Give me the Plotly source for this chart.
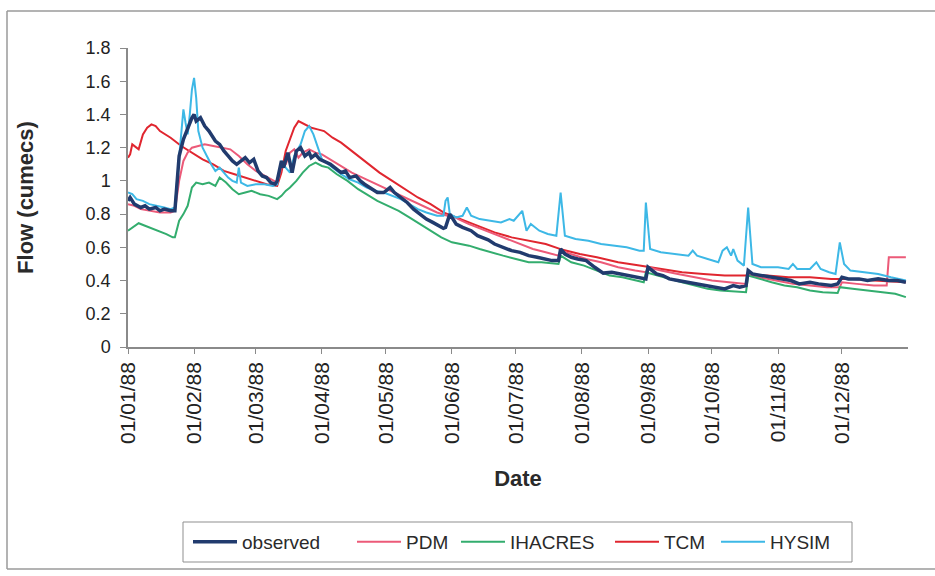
import pandas as pd
import plotly.graph_objects as go

START = pd.Timestamp("1988-01-01")

# Daily flow (cumecs), sampled as day-of-year offsets from 1 Jan 1988
obs_days = [0, 1, 3, 6, 8, 10, 13, 15, 17, 20, 22, 23, 24, 26, 28, 30, 31, 32, 34, 36, 38, 39, 41, 43, 45,
            47, 49, 51, 53, 55, 57, 59, 61, 63, 65, 67, 69, 70, 72, 73, 75, 76, 77, 79, 81, 83, 85, 86, 88,
            90, 92, 95, 97, 100, 102, 104, 107, 109, 111, 115, 117, 120, 123, 125, 128, 131, 134, 137, 140,
            143, 146, 148, 149, 151, 153, 154, 157, 161, 164, 169, 172, 176, 180, 184, 188, 192, 196, 199,
            202, 203, 205, 208, 211, 215, 219, 223, 227, 231, 235, 238, 242, 243, 244, 246, 248, 251, 254,
            258, 262, 266, 270, 274, 277, 280, 284, 287, 290, 291, 293, 297, 301, 306, 311, 315, 320, 324,
            330, 333, 335, 338, 343, 347, 352, 357, 361, 365]
obs_vals = [0.88, 0.90, 0.86, 0.84, 0.85, 0.83, 0.84, 0.82, 0.83, 0.82, 0.82, 1.00, 1.15, 1.25, 1.32, 1.38,
            1.40, 1.36, 1.38, 1.33, 1.30, 1.28, 1.24, 1.22, 1.18, 1.15, 1.12, 1.10, 1.12, 1.14, 1.11, 1.13,
            1.06, 1.03, 1.02, 0.99, 0.98, 1.00, 1.12, 1.08, 1.17, 1.10, 1.05, 1.18, 1.20, 1.15, 1.17, 1.14,
            1.16, 1.13, 1.12, 1.10, 1.08, 1.05, 1.06, 1.02, 1.03, 1.00, 0.98, 0.95, 0.93, 0.93, 0.96, 0.93,
            0.90, 0.87, 0.83, 0.80, 0.77, 0.75, 0.73, 0.715, 0.72, 0.80, 0.76, 0.74, 0.72, 0.70, 0.67, 0.645,
            0.62, 0.60, 0.58, 0.57, 0.55, 0.54, 0.53, 0.52, 0.52, 0.59, 0.56, 0.54, 0.53, 0.52, 0.48, 0.445,
            0.45, 0.44, 0.43, 0.42, 0.415, 0.41, 0.48, 0.46, 0.44, 0.43, 0.41, 0.40, 0.39, 0.38, 0.37, 0.36,
            0.355, 0.35, 0.37, 0.36, 0.37, 0.46, 0.44, 0.43, 0.42, 0.41, 0.40, 0.38, 0.39, 0.38, 0.37, 0.38,
            0.42, 0.41, 0.41, 0.40, 0.41, 0.40, 0.40, 0.39]

pdm_days = [0, 3, 6, 10, 15, 20, 22, 24, 26, 28, 30, 33, 36, 40, 44, 48, 52, 56, 60, 64, 68, 70, 72, 74, 76,
            78, 80, 82, 85, 88, 91, 95, 100, 105, 110, 115, 120, 125, 130, 135, 140, 145, 150, 151, 155, 160,
            166, 172, 178, 184, 190, 196, 202, 203, 208, 215, 222, 230, 238, 243, 244, 250, 258, 266, 274,
            282, 290, 291, 296, 304, 312, 320, 328, 334, 335, 342, 350, 356, 357, 365]
pdm_vals = [0.86, 0.85, 0.83, 0.82, 0.81, 0.81, 0.82, 1.00, 1.12, 1.17, 1.20, 1.21, 1.22, 1.21, 1.20, 1.19,
            1.15, 1.10, 1.06, 1.03, 1.00, 0.99, 1.08, 1.10, 1.17, 1.19, 1.14, 1.17, 1.19, 1.17, 1.16, 1.13,
            1.09, 1.05, 1.02, 0.99, 0.96, 0.93, 0.90, 0.87, 0.84, 0.81, 0.79, 0.80, 0.77, 0.74, 0.71, 0.68,
            0.65, 0.62, 0.59, 0.57, 0.55, 0.58, 0.56, 0.53, 0.51, 0.48, 0.46, 0.45, 0.48, 0.46, 0.44, 0.42,
            0.40, 0.39, 0.38, 0.44, 0.42, 0.40, 0.38, 0.37, 0.36, 0.36, 0.39, 0.38, 0.37, 0.37, 0.54, 0.54]

ihacres_days = [0, 2, 5, 8, 10, 14, 18, 21, 22, 24, 26, 28, 30, 32, 35, 38, 41, 43, 46, 49, 52, 55, 58, 62,
                66, 70, 72, 74, 76, 79, 82, 85, 88, 91, 94, 98, 103, 108, 112, 117, 122, 127, 132, 137, 142,
                147, 152, 156, 160, 165, 170, 176, 182, 188, 194, 199, 202, 203, 208, 214, 220, 226, 232, 238,
                242, 243, 248, 254, 260, 266, 272, 278, 284, 290, 291, 296, 302, 308, 314, 320, 326, 333, 334,
                340, 347, 354, 360, 365]
ihacres_vals = [0.70, 0.72, 0.745, 0.73, 0.72, 0.70, 0.68, 0.66, 0.66, 0.76, 0.80, 0.85, 0.96, 0.99, 0.98,
                0.99, 0.97, 1.02, 0.99, 0.95, 0.92, 0.93, 0.94, 0.92, 0.91, 0.89, 0.91, 0.94, 0.96, 1.00, 1.05,
                1.09, 1.11, 1.09, 1.08, 1.04, 1.00, 0.95, 0.92, 0.88, 0.85, 0.82, 0.78, 0.74, 0.70, 0.66, 0.63,
                0.62, 0.61, 0.59, 0.57, 0.55, 0.53, 0.51, 0.51, 0.505, 0.50, 0.55, 0.51, 0.49, 0.46, 0.43, 0.42,
                0.40, 0.39, 0.45, 0.43, 0.41, 0.39, 0.37, 0.35, 0.34, 0.335, 0.33, 0.43, 0.41, 0.39, 0.37, 0.36,
                0.34, 0.33, 0.325, 0.36, 0.35, 0.34, 0.33, 0.32, 0.30]

tcm_days = [0, 1, 2, 4, 5, 7, 9, 11, 13, 15, 20, 25, 30, 35, 40, 45, 50, 55, 60, 65, 70, 72, 74, 76, 78, 80,
            83, 86, 89, 92, 96, 100, 106, 112, 118, 124, 130, 136, 142, 148, 154, 160, 166, 172, 180, 188,
            196, 204, 212, 220, 230, 240, 250, 260, 270, 280, 290, 300, 310, 320, 330, 340, 350, 365]
tcm_vals = [1.14, 1.16, 1.22, 1.20, 1.19, 1.28, 1.32, 1.34, 1.33, 1.30, 1.26, 1.21, 1.17, 1.13, 1.10, 1.06,
            1.04, 1.02, 1.00, 0.98, 0.97, 1.05, 1.18, 1.25, 1.32, 1.36, 1.34, 1.32, 1.31, 1.30, 1.26, 1.23,
            1.17, 1.11, 1.05, 1.00, 0.95, 0.90, 0.86, 0.81, 0.78, 0.75, 0.72, 0.69, 0.66, 0.64, 0.62, 0.585,
            0.56, 0.54, 0.51, 0.49, 0.47, 0.45, 0.44, 0.43, 0.43, 0.43, 0.42, 0.42, 0.41, 0.41, 0.40, 0.39]

hysim_days = [0, 2, 4, 7, 10, 14, 17, 20, 22, 23, 25, 26, 27, 28, 29, 30, 31, 32, 33, 35, 37, 39, 41, 43, 45,
              47, 49, 51, 52, 53, 56, 60, 64, 68, 70, 72, 74, 76, 78, 81, 83, 85, 87, 89, 91, 94, 97, 100, 104,
              108, 112, 116, 120, 124, 128, 132, 136, 140, 145, 148, 149, 150, 151, 154, 157, 159, 161, 165,
              170, 175, 179, 181, 185, 187, 189, 193, 197, 201, 203, 205, 210, 216, 222, 228, 234, 240, 242,
              243, 245, 250, 256, 263, 265, 267, 272, 277, 279, 281, 283, 284, 286, 289, 291, 293, 297, 305,
              310, 312, 314, 320, 323, 325, 329, 332, 334, 336, 339, 345, 352, 358, 365]
hysim_vals = [0.93, 0.92, 0.89, 0.88, 0.86, 0.85, 0.84, 0.83, 0.84, 1.00, 1.30, 1.43, 1.35, 1.28, 1.40, 1.55,
              1.62, 1.50, 1.30, 1.20, 1.15, 1.10, 1.06, 1.08, 1.05, 1.02, 1.00, 0.99, 1.08, 0.99, 0.97, 0.98,
              0.98, 0.97, 0.98, 1.12, 1.08, 1.05, 1.15, 1.22, 1.30, 1.33, 1.28, 1.20, 1.13, 1.10, 1.07, 1.04,
              1.01, 0.99, 0.96, 0.94, 0.93, 0.91, 0.89, 0.86, 0.83, 0.81, 0.79, 0.79, 0.88, 0.90, 0.80, 0.78,
              0.79, 0.84, 0.79, 0.77, 0.76, 0.75, 0.77, 0.76, 0.82, 0.70, 0.74, 0.70, 0.68, 0.67, 0.93, 0.67,
              0.65, 0.64, 0.62, 0.61, 0.60, 0.58, 0.58, 0.87, 0.59, 0.57, 0.56, 0.55, 0.58, 0.55, 0.53, 0.51,
              0.58, 0.60, 0.55, 0.59, 0.52, 0.49, 0.84, 0.50, 0.48, 0.48, 0.47, 0.50, 0.47, 0.47, 0.51, 0.47,
              0.45, 0.44, 0.63, 0.50, 0.46, 0.45, 0.44, 0.42, 0.40]

month_ticks = pd.date_range("1988-01-01", "1988-12-01", freq="MS")
y_ticks = [0, 0.2, 0.4, 0.6, 0.8, 1, 1.2, 1.4, 1.6, 1.8]

FONT = "Liberation Sans, Arial, sans-serif"
AXIS_GREY = "#8a8a8a"

# Plot area spans 128..908 px horizontally and 48..347 px vertically
L, R, T, B = 128, 27, 48, 229
PW, PH = 935 - L - R, 576 - T - B


def px(x):
    return (x - L) / PW


def py(y):
    return (576 - B - y) / PH


# name, days, values, colour, width, legend id, legend left edge (px)
series = [
    ("TCM", tcm_days, tcm_vals, "#E0262F", 2.0, "legend4", 610),
    ("PDM", pdm_days, pdm_vals, "#EC5A78", 2.0, "legend2", 352),
    ("IHACRES", ihacres_days, ihacres_vals, "#33AD6E", 2.0, "legend3", 456),
    ("HYSIM", hysim_days, hysim_vals, "#3DB8E6", 2.0, "legend5", 716),
    ("observed", obs_days, obs_vals, "#213B6E", 3.5, "legend", 188),
]


def to_dates(days):
    return START + pd.to_timedelta(days, unit="D")


fig = go.Figure()
legends = {}
for name, days, vals, colour, width, leg, left in series:
    fig.add_trace(go.Scatter(
        x=to_dates(days), y=vals, name=name, mode="lines",
        line=dict(color=colour, width=width), legend=leg,
    ))
    legends[leg] = dict(
        orientation="h", x=px(left), y=py(523), xanchor="left", yanchor="top",
        borderwidth=0, bgcolor="rgba(0,0,0,0)", itemwidth=44,
        font=dict(family=FONT, size=19, color="#2a2a2a"),
    )

fig.update_layout(
    width=935, height=576,
    margin=dict(l=L, r=R, t=T, b=B, autoexpand=False),
    paper_bgcolor="white", plot_bgcolor="white",
    font=dict(family=FONT, color="#222222"),
    showlegend=True,
    **legends,
    xaxis=dict(
        type="date", range=["1988-01-01", "1989-01-01"],
        tickvals=month_ticks, ticktext=[d.strftime("%d/%m/%y") for d in month_ticks],
        tickangle=-90, tickfont=dict(size=21, color="#222222"),
        ticks="outside", ticklen=5, tickcolor=AXIS_GREY,
        showline=True, linecolor=AXIS_GREY, linewidth=1.5,
        showgrid=False, zeroline=False,
        title=dict(text="<b>Date</b>", font=dict(size=22, color="#2a2a2a"), standoff=28),
    ),
    yaxis=dict(
        range=[0, 1.8], tickvals=y_ticks, ticktext=[f"{v:g}" for v in y_ticks],
        tickfont=dict(size=18, color="#222222"), ticklabelstandoff=6,
        ticks="outside", ticklen=6, tickcolor=AXIS_GREY,
        showline=True, linecolor=AXIS_GREY, linewidth=1.5,
        showgrid=False, zeroline=False,
        title=dict(text="<b>Flow (cumecs)</b>", font=dict(size=22, color="#2a2a2a"), standoff=46),
    ),
    shapes=[
        # outer chart frame
        dict(type="line", xref="paper", yref="paper", x0=px(7), x1=px(940), y0=py(11), y1=py(11),
             line=dict(color="#9a9a9a", width=1.5)),
        dict(type="line", xref="paper", yref="paper", x0=px(7), x1=px(7), y0=py(11), y1=py(569),
             line=dict(color="#9a9a9a", width=1.5)),
        dict(type="line", xref="paper", yref="paper", x0=px(7), x1=px(940), y0=py(569), y1=py(569),
             line=dict(color="#9a9a9a", width=1.5)),
        # legend box
        dict(type="rect", xref="paper", yref="paper", x0=px(183), x1=px(852), y0=py(522), y1=py(562),
             line=dict(color="#8f8f8f", width=1), fillcolor="rgba(0,0,0,0)"),
    ],
)

fig.write_html("out.html")
